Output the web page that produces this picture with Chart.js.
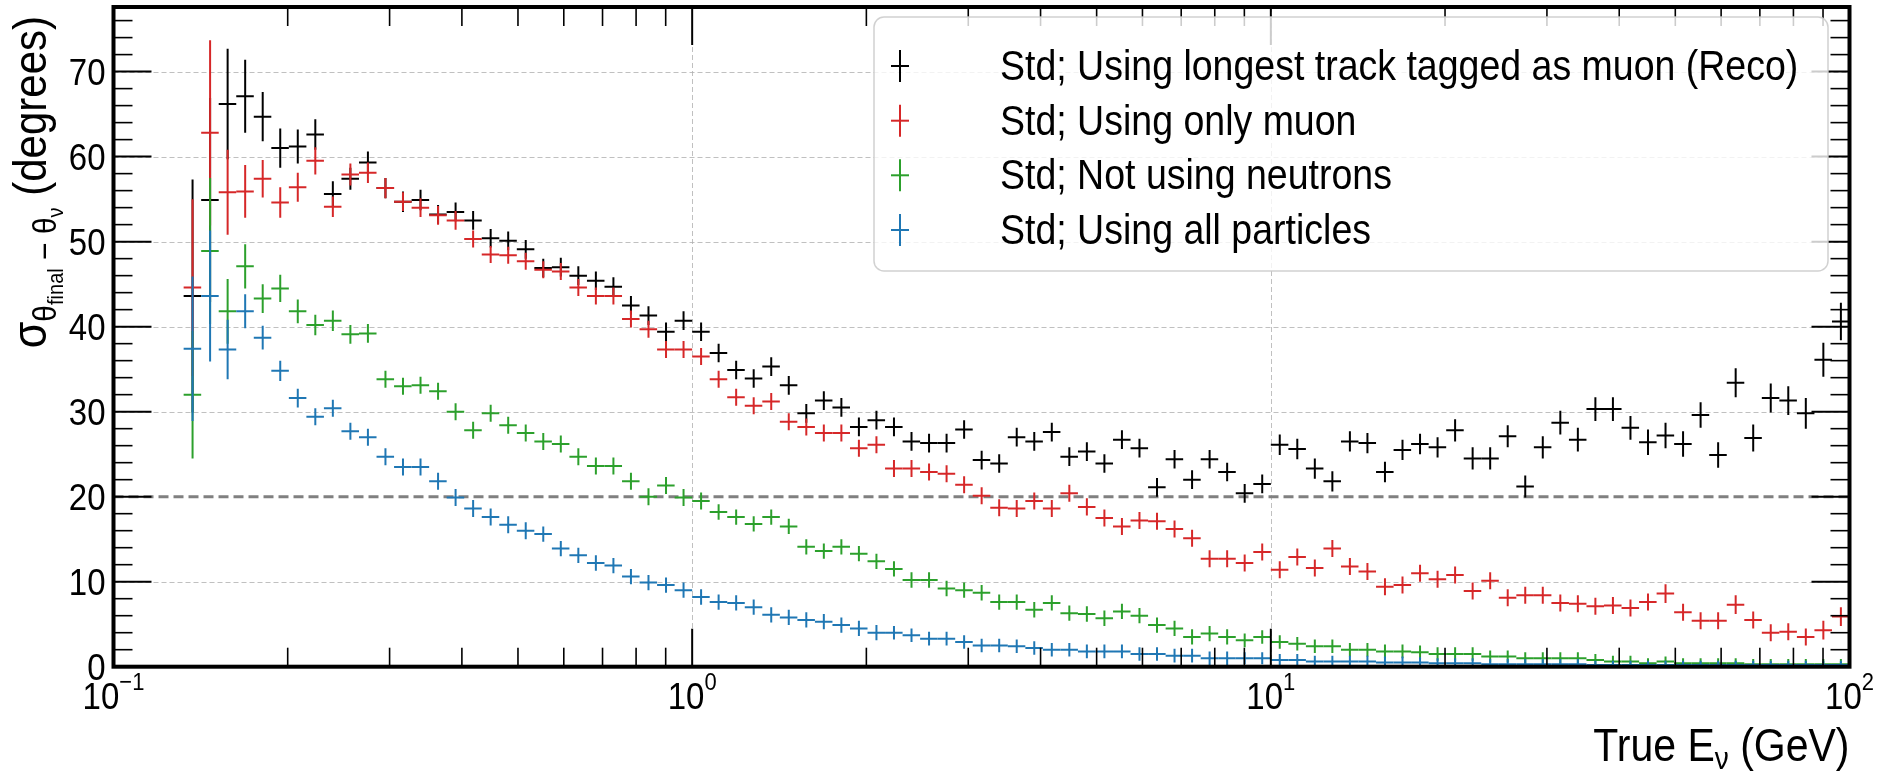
<!DOCTYPE html>
<html>
<head>
<meta charset="utf-8">
<script src="https://cdn.jsdelivr.net/npm/chart.js@4.4.1/dist/chart.umd.min.js"></script>
<style>
  html, body { margin: 0; padding: 0; background: #fff; }
  #wrap { width: 1877px; height: 773px; }
</style>
</head>
<body>
<div id="wrap"><canvas id="chart" width="1877" height="773"></canvas></div>
<script>
// log binning: 33 bins per decade between 0.1 and 100 GeV, first filled bin is #4
const binsPerDecade = 33;
const firstBin = 4;
const xMin = 0.1;
const xMax = 100;

const seriesLabels = [
  'Std; Using longest track tagged as muon (Reco)',
  'Std; Using only muon',
  'Std; Not using neutrons',
  'Std; Using all particles',
];
const seriesColors = ['#000000', '#d62728', '#2ca02c', '#1f77b4'];

const stdReco = [
  43.6, 54.9, 66.2, 67.1, 64.7, 61.0, 61.2, 62.6, 55.6, 57.4,
  59.3, 56.3, 54.7, 54.9, 53.2, 53.5, 52.5, 50.4, 50.1, 49.1,
  46.9, 47.0, 46.0, 45.4, 44.7, 42.5, 41.3, 39.4, 40.7, 39.4,
  36.9, 34.9, 33.9, 35.3, 33.1, 29.8, 31.3, 30.5, 28.2, 29.0,
  28.2, 26.5, 26.3, 26.3, 27.9, 24.3, 23.9, 27.0, 26.5, 27.6,
  24.7, 25.3, 23.9, 26.7, 25.7, 21.1, 24.4, 22.0, 24.4, 22.9,
  20.4, 21.5, 26.1, 25.6, 23.3, 21.8, 26.5, 26.3, 22.9, 25.5,
  26.2, 25.8, 27.8, 24.5, 24.5, 27.1, 21.2, 25.8, 28.7, 26.7,
  30.3, 30.3, 28.1, 26.4, 27.2, 26.2, 29.6, 24.9, 33.4, 26.9,
  31.6, 31.3, 29.8, 36.1, 40.6,
];
const errReco = [
  13.7, 12.0, 6.5, 4.3, 2.9, 2.3, 2.0, 1.8, 1.5, 1.3,
  1.3, 1.2, 1.2, 1.2, 1.1, 1.1, 1.1, 1.1, 1.1, 1.1,
  1.1, 1.1, 1.1, 1.1, 1.1, 1.1, 1.1, 1.1, 1.1, 1.1,
  1.1, 1.1, 1.1, 1.1, 1.1, 1.1, 1.1, 1.1, 1.1, 1.1,
  1.1, 1.1, 1.1, 1.1, 1.1, 1.1, 1.1, 1.1, 1.1, 1.1,
  1.1, 1.1, 1.1, 1.1, 1.1, 1.1, 1.1, 1.1, 1.1, 1.1,
  1.1, 1.1, 1.2, 1.2, 1.2, 1.2, 1.2, 1.2, 1.2, 1.2,
  1.2, 1.2, 1.3, 1.3, 1.3, 1.3, 1.3, 1.3, 1.4, 1.4,
  1.4, 1.4, 1.4, 1.5, 1.5, 1.5, 1.5, 1.5, 1.7, 1.6,
  1.7, 1.7, 1.8, 2.0, 2.2,
];

const stdMuon = [
  44.6, 62.8, 55.8, 55.9, 57.4, 54.6, 56.4, 59.5, 54.1, 57.9,
  58.1, 56.3, 54.7, 54.0, 53.1, 52.5, 50.3, 48.5, 48.4, 47.7,
  46.7, 46.5, 44.6, 43.6, 43.6, 40.9, 39.7, 37.3, 37.3, 36.5,
  33.8, 31.7, 30.7, 31.2, 28.8, 28.2, 27.5, 27.5, 25.7, 26.1,
  23.3, 23.3, 22.9, 22.7, 21.4, 20.1, 18.7, 18.6, 19.5, 18.6,
  20.4, 18.8, 17.5, 16.5, 17.2, 17.1, 16.2, 15.1, 12.7, 12.7,
  12.2, 13.5, 11.4, 12.9, 11.6, 13.9, 11.8, 11.2, 9.4, 9.6,
  11.0, 10.3, 10.8, 8.9, 10.1, 8.1, 8.4, 8.4, 7.5, 7.4,
  7.1, 7.2, 6.9, 7.6, 8.6, 6.4, 5.4, 5.4, 7.3, 5.5,
  4.0, 4.1, 3.5, 4.3, 5.9,
];
const errMuon = [
  10.4, 10.9, 5.0, 3.1, 2.2, 1.8, 1.7, 1.6, 1.2, 1.3,
  1.2, 1.2, 1.1, 1.1, 1.1, 1.1, 1.0, 1.0, 1.0, 1.0,
  1.0, 1.0, 1.0, 1.0, 1.0, 1.0, 1.0, 1.0, 1.0, 1.0,
  1.0, 1.0, 1.0, 1.0, 1.0, 1.0, 1.0, 1.0, 1.0, 1.0,
  1.0, 1.0, 1.0, 1.0, 1.0, 1.0, 1.0, 1.0, 1.0, 1.0,
  1.0, 1.0, 1.0, 1.0, 1.0, 1.0, 1.0, 1.0, 1.0, 1.0,
  1.0, 1.0, 1.0, 1.0, 1.0, 1.0, 1.0, 1.0, 1.0, 1.0,
  1.0, 1.0, 1.0, 1.0, 1.0, 1.0, 1.0, 1.0, 1.0, 1.0,
  1.0, 1.0, 1.0, 1.0, 1.1, 1.0, 1.0, 1.0, 1.1, 1.0,
  1.0, 1.0, 1.0, 1.1, 1.1,
];

const stdNoNeutron = [
  32.0, 48.9, 41.8, 47.1, 43.3, 44.5, 41.8, 40.2, 40.7, 39.1,
  39.2, 33.8, 33.0, 33.1, 32.4, 30.0, 27.8, 29.8, 28.4, 27.5,
  26.5, 26.2, 24.7, 23.6, 23.6, 21.8, 20.0, 21.3, 19.9, 19.5,
  18.2, 17.6, 16.8, 17.6, 16.5, 14.1, 13.6, 14.1, 13.3, 12.4,
  11.5, 10.2, 10.2, 9.2, 9.0, 8.7, 7.6, 7.6, 6.7, 7.5,
  6.3, 6.2, 5.7, 6.5, 6.0, 4.9, 4.5, 3.5, 3.9, 3.5,
  3.1, 3.5, 2.9, 2.7, 2.4, 2.4, 2.0, 2.0, 1.8, 1.8,
  1.7, 1.5, 1.5, 1.5, 1.2, 1.2, 1.0, 1.0, 1.0, 1.0,
  0.8, 0.6, 0.6, 0.4, 0.6, 0.4, 0.4, 0.4, 0.4, 0.3,
  0.3, 0.3, 0.3, 0.3, 0.3,
];
const errNoNeutron = [
  7.5, 8.6, 3.8, 2.6, 1.7, 1.6, 1.4, 1.2, 1.2, 1.1,
  1.1, 1.0, 1.0, 1.0, 1.0, 1.0, 1.0, 1.0, 1.0, 1.0,
  1.0, 1.0, 1.0, 1.0, 1.0, 1.0, 1.0, 1.0, 1.0, 1.0,
  0.9, 0.9, 0.9, 0.9, 0.9, 0.9, 0.9, 0.9, 0.9, 0.9,
  0.9, 0.9, 0.9, 0.9, 0.9, 0.9, 0.9, 0.9, 0.9, 0.9,
  0.9, 0.9, 0.9, 0.9, 0.9, 0.9, 0.9, 0.9, 0.9, 0.9,
  0.8, 0.8, 0.8, 0.8, 0.8, 0.8, 0.8, 0.8, 0.8, 0.8,
  0.8, 0.8, 0.8, 0.8, 0.7, 0.7, 0.7, 0.7, 0.7, 0.7,
  0.7, 0.7, 0.7, 0.6, 0.6, 0.6, 0.6, 0.6, 0.6, 0.6,
  0.6, 0.6, 0.6, 0.6, 0.6,
];

const stdAll = [
  37.4, 43.6, 37.3, 41.8, 38.7, 34.8, 31.6, 29.4, 30.4, 27.7,
  27.0, 24.7, 23.5, 23.5, 21.8, 19.9, 18.6, 17.6, 16.7, 16.0,
  15.6, 13.9, 13.1, 12.2, 11.9, 10.6, 9.9, 9.6, 9.0, 8.2,
  7.6, 7.5, 7.0, 6.1, 5.8, 5.5, 5.3, 4.9, 4.5, 4.0,
  4.0, 3.7, 3.3, 3.3, 2.9, 2.5, 2.5, 2.4, 2.2, 2.0,
  2.0, 1.8, 1.8, 1.8, 1.5, 1.5, 1.3, 1.3, 1.0, 1.0,
  1.0, 1.0, 0.8, 0.8, 0.6, 0.6, 0.6, 0.6, 0.5, 0.5,
  0.5, 0.4, 0.4, 0.4, 0.3, 0.3, 0.3, 0.3, 0.3, 0.3,
  0.2, 0.2, 0.2, 0.2, 0.2, 0.2, 0.2, 0.2, 0.2, 0.2,
  0.2, 0.2, 0.2, 0.2, 0.2,
];
const errAll = [
  8.5, 7.7, 3.5, 2.0, 1.4, 1.2, 1.1, 1.0, 1.0, 1.0,
  1.0, 1.0, 1.0, 1.0, 1.0, 1.0, 1.0, 1.0, 1.0, 1.0,
  0.9, 0.9, 0.9, 0.9, 0.9, 0.9, 0.9, 0.9, 0.9, 0.9,
  0.9, 0.9, 0.9, 0.9, 0.9, 0.9, 0.9, 0.9, 0.9, 0.9,
  0.8, 0.8, 0.8, 0.8, 0.8, 0.8, 0.8, 0.8, 0.8, 0.8,
  0.8, 0.8, 0.8, 0.8, 0.8, 0.8, 0.8, 0.8, 0.8, 0.8,
  0.7, 0.7, 0.7, 0.7, 0.7, 0.7, 0.7, 0.7, 0.7, 0.7,
  0.6, 0.6, 0.6, 0.6, 0.6, 0.6, 0.6, 0.6, 0.6, 0.6,
  0.5, 0.5, 0.5, 0.5, 0.5, 0.5, 0.5, 0.5, 0.5, 0.5,
  0.5, 0.5, 0.5, 0.5, 0.5,
];

const seriesValues = [stdReco, stdMuon, stdNoNeutron, stdAll];
const seriesErrors = [errReco, errMuon, errNoNeutron, errAll];

const yTickValues = [0, 10, 20, 30, 40, 50, 60, 70];
const yGridValues = [10, 30, 40, 50, 60, 70];
const xTickValues = [0.1, 1, 10, 100];
const xTickExponents = ['\u22121', '0', '1', '2'];
const xGridValues = [1, 10];
const refLine = 20;

// bin edges for the filled bins
const binEdge = k => Math.pow(10, Math.log10(xMin) + k / binsPerDecade);
const binLo = stdReco.map((_, i) => binEdge(firstBin + i));
const binHi = stdReco.map((_, i) => binEdge(firstBin + i + 1));
const binMid = binLo.map((lo, i) => (lo + binHi[i]) / 2);

const FONT = '"Liberation Sans", Arial, Helvetica, sans-serif';
const TEXT_STRETCH = 1.12; // glyphs in the original are a bit taller than Liberation Sans

function line(ctx, x1, y1, x2, y2) {
  ctx.beginPath();
  ctx.moveTo(x1, y1);
  ctx.lineTo(x2, y2);
  ctx.stroke();
}

// draws runs of [text, size, baselineShift] starting at x, stretched across the baseline
function drawRuns(ctx, runs, x, baseline) {
  ctx.save();
  ctx.translate(x, baseline);
  ctx.scale(1, TEXT_STRETCH);
  let cx = 0;
  runs.forEach(([t, f, dy]) => {
    ctx.font = `${f}px ${FONT}`;
    ctx.fillText(t, cx, dy / TEXT_STRETCH);
    cx += ctx.measureText(t).width;
  });
  ctx.restore();
}
function runsWidth(ctx, runs) {
  let w = 0;
  runs.forEach(([t, f]) => { ctx.font = `${f}px ${FONT}`; w += ctx.measureText(t).width; });
  return w;
}

const histPlugin = {
  id: 'histDecor',
  beforeDatasetsDraw(chart) {
    const { ctx, chartArea: a, scales: { x, y } } = chart;
    ctx.save();
    ctx.beginPath();
    ctx.rect(a.left, a.top, a.right - a.left, a.bottom - a.top);
    ctx.clip();
    // light dashed grid at major ticks
    ctx.strokeStyle = 'rgba(176,176,176,0.8)';
    ctx.lineWidth = 1;
    ctx.setLineDash([5, 3]);
    yGridValues.forEach(v => {
      const py = Math.round(y.getPixelForValue(v)) + 0.5;
      line(ctx, a.left, py, a.right, py);
    });
    xGridValues.forEach(v => {
      const px = Math.round(x.getPixelForValue(v)) + 0.5;
      line(ctx, px, a.top, px, a.bottom);
    });
    // reference line
    ctx.strokeStyle = '#808080';
    ctx.lineWidth = 3;
    ctx.setLineDash([10, 5]);
    const py20 = y.getPixelForValue(refLine);
    line(ctx, a.left, py20, a.right, py20);
    ctx.restore();
  },
  afterDatasetsDraw(chart) {
    const { ctx, chartArea: a, scales: { x, y } } = chart;
    ctx.save();
    ctx.beginPath();
    ctx.rect(a.left, a.top, a.right - a.left, a.bottom - a.top);
    ctx.clip();
    ctx.lineWidth = 2;
    ctx.lineCap = 'butt';
    // draw in plotting order: first series at the back, last in front
    seriesValues.forEach((vals, s) => {
      ctx.strokeStyle = seriesColors[s];
      const errs = seriesErrors[s];
      vals.forEach((v, i) => {
        const pyc = y.getPixelForValue(v);
        const pxc = x.getPixelForValue(binMid[i]);
        line(ctx, x.getPixelForValue(binLo[i]), pyc, x.getPixelForValue(binHi[i]), pyc);
        line(ctx, pxc, y.getPixelForValue(v - errs[i]), pxc, y.getPixelForValue(v + errs[i]));
      });
    });
    ctx.restore();

    ctx.save();
    // ticks on all four sides, pointing in
    ctx.strokeStyle = '#000';
    const majorLen = 38, minorLen = 19;
    ctx.lineWidth = 2;
    yTickValues.forEach(v => {
      const py = y.getPixelForValue(v);
      line(ctx, a.left, py, a.left + majorLen, py);
      line(ctx, a.right, py, a.right - majorLen, py);
    });
    ctx.lineWidth = 1.6;
    for (let v = 2; v < y.max; v += 2) {
      if (v % 10 === 0) continue;
      const py = y.getPixelForValue(v);
      line(ctx, a.left, py, a.left + minorLen, py);
      line(ctx, a.right, py, a.right - minorLen, py);
    }
    ctx.lineWidth = 2;
    xTickValues.forEach(v => {
      const px = x.getPixelForValue(v);
      line(ctx, px, a.bottom, px, a.bottom - majorLen);
      line(ctx, px, a.top, px, a.top + majorLen);
    });
    ctx.lineWidth = 1.6;
    xTickValues.slice(0, -1).forEach(dec => {
      for (let m = 2; m <= 9; m++) {
        const px = x.getPixelForValue(dec * m);
        line(ctx, px, a.bottom, px, a.bottom - minorLen);
        line(ctx, px, a.top, px, a.top + minorLen);
      }
    });
    // frame
    ctx.lineWidth = 4;
    ctx.strokeRect(a.left, a.top, a.right - a.left, a.bottom - a.top);

    // tick labels
    ctx.fillStyle = '#000';
    ctx.textAlign = 'left';
    ctx.textBaseline = 'alphabetic';
    yTickValues.forEach(v => {
      const runs = [[String(v), 33, 0]];
      drawRuns(ctx, runs, a.left - 8 - runsWidth(ctx, runs), y.getPixelForValue(v) + 13);
    });
    xTickValues.forEach((v, i) => {
      const runs = [['10', 33, 0], [xTickExponents[i], 22, -19]];
      drawRuns(ctx, runs, x.getPixelForValue(v) - runsWidth(ctx, runs) / 2, 709);
    });

    // x axis title, right aligned at the axis end
    const xt = [['True E', 41, 0], ['\u03bd', 28, 8], [' (GeV)', 41, 0]];
    drawRuns(ctx, xt, a.right - runsWidth(ctx, xt), 761);

    // y axis title, rotated, top aligned
    const yt = [['\u03c3', 43, 0], ['\u03b8', 30, 10], ['final', 20, 17], [' \u2212 ', 30, 10],
                ['\u03b8', 30, 10], ['\u03bd', 20, 17], [' (degrees)', 42, 0]];
    const yw = runsWidth(ctx, yt);
    ctx.save();
    ctx.translate(0, 16 + yw);
    ctx.rotate(-Math.PI / 2);
    drawRuns(ctx, yt, 0, 46);
    ctx.restore();

    // legend
    const lx = 874, ly = 17, lw = 954, lh = 254;
    ctx.beginPath();
    ctx.roundRect(lx, ly, lw, lh, 10);
    ctx.fillStyle = 'rgba(255,255,255,0.8)';
    ctx.fill();
    ctx.strokeStyle = 'rgba(204,204,204,0.9)';
    ctx.lineWidth = 1.5;
    ctx.stroke();
    const rowY = [66, 120.7, 175.3, 230];
    seriesLabels.forEach((lab, s) => {
      const ry = rowY[s];
      ctx.strokeStyle = seriesColors[s];
      ctx.lineWidth = 2;
      line(ctx, 891, ry, 909, ry);
      line(ctx, 900, ry - 16, 900, ry + 16);
      ctx.fillStyle = '#000';
      drawRuns(ctx, [[lab, 37.5, 0]], 1000, ry + 14);
    });
    ctx.restore();
  },
};

new Chart(document.getElementById('chart'), {
  type: 'scatter',
  data: {
    datasets: seriesValues.map((vals, s) => ({
      label: seriesLabels[s],
      data: vals.map((v, i) => ({ x: binMid[i], y: v })),
      borderColor: seriesColors[s],
      backgroundColor: seriesColors[s],
      pointRadius: 0,
      showLine: false,
    })),
  },
  options: {
    responsive: false,
    animation: false,
    devicePixelRatio: 1,
    layout: { padding: { left: 113.5, right: 27.5, top: 7, bottom: 106.3 } },
    plugins: {
      legend: { display: false },
      tooltip: { enabled: false },
    },
    scales: {
      x: { type: 'logarithmic', min: xMin, max: xMax, display: false },
      y: { type: 'linear', min: 0, max: 77.6, display: false },
    },
  },
  plugins: [histPlugin],
});
</script>
</body>
</html>
